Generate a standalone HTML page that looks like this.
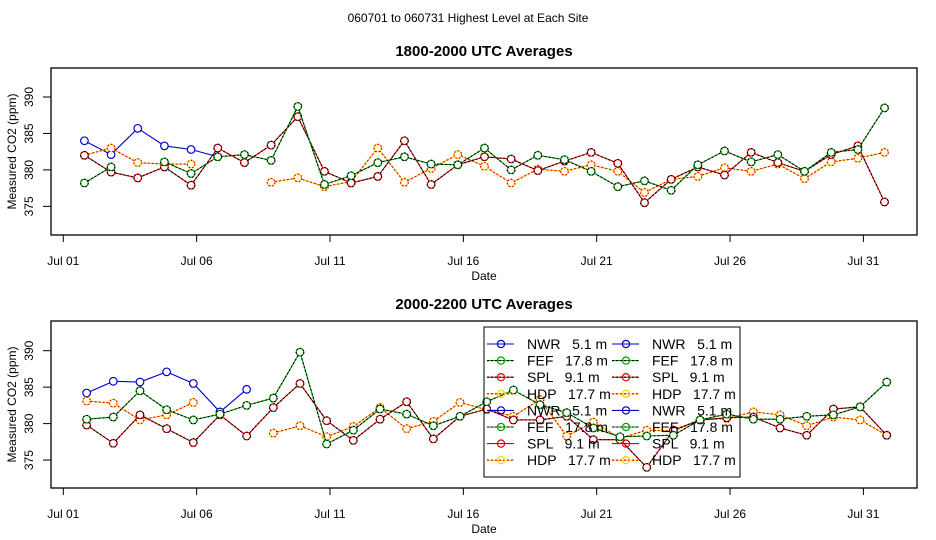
<!DOCTYPE html>
<html><head><meta charset="utf-8">
<style>
body{margin:0;background:#fff;}
svg{display:block;font-family:"Liberation Sans",sans-serif;}
</style></head>
<body>
<svg id="chart" width="936" height="540" viewBox="0 0 936 540" xmlns="http://www.w3.org/2000/svg">
<text x="468" y="22" font-size="12" text-anchor="middle">060701  to  060731 Highest Level at Each Site</text>
<g id="p1"></g>
<g id="p2"></g>
</svg>
<script>
// Data (days of July 2006, value in ppm)
const dayLabels = ["Jul 01","Jul 06","Jul 11","Jul 16","Jul 21","Jul 26","Jul 31"];
const labelDays = [1,6,11,16,21,26,31];
const yTicks = [375,380,385,390];
const days = [1,2,3,4,5,6,7,8,9,10,11,12,13,14,15,16,17,18,19,20,21,22,23,24,25,26,27,28,29,30,31];

const top_NWR = [384.0,382.1,385.7,383.3,382.8,381.8,null,null,null,null,null,null,null,null,null,null,null,null,null,null,null,null,null,null,null,null,null,null,null,null,null];
const top_FEF = [378.2,380.4,null,381.1,379.5,381.8,382.1,381.3,388.7,378.0,379.2,381.0,381.8,380.8,380.7,383.0,380.0,382.0,381.4,379.8,377.7,378.5,377.2,380.7,382.6,381.1,382.1,379.8,382.4,382.8,388.5];
const top_SPL = [382.0,379.7,378.9,380.4,377.9,383.0,381.0,383.4,387.3,379.8,378.2,379.1,384.0,378.0,380.7,381.8,381.5,379.9,381.2,382.4,380.9,375.5,378.7,380.4,379.3,382.4,381.0,379.8,382.1,383.3,375.6];
const top_HDP = [382.0,383.0,381.0,380.8,380.8,null,null,378.3,378.9,377.7,378.4,383.0,378.3,380.2,382.1,380.5,378.2,380.1,379.8,380.7,379.8,376.9,378.7,379.1,380.3,379.8,380.8,378.8,381.1,381.6,382.4];

const bot_NWR = [384.2,385.8,385.7,387.1,385.5,381.6,384.7,null,null,null,null,null,null,null,null,null,null,null,null,null,null,null,null,null,null,null,null,null,null,null,null];
const bot_FEF = [380.6,380.9,384.5,381.9,380.5,381.3,382.5,383.5,389.8,377.2,379.1,382.0,381.3,379.7,381.0,383.0,384.6,382.6,381.5,379.4,378.2,378.3,378.4,380.5,381.3,380.6,380.6,381.0,381.2,382.3,385.7];
const bot_SPL = [379.8,377.3,381.2,379.3,377.4,381.2,378.3,382.2,385.5,380.4,377.7,380.6,383.0,377.9,381.0,382.0,380.5,380.5,381.0,377.8,377.8,374.0,379.1,380.5,380.8,380.9,379.4,378.4,382.0,382.3,378.4];
const bot_HDP = [383.1,382.8,380.5,381.2,382.9,null,null,378.7,379.7,378.2,379.6,382.2,379.3,380.3,382.9,381.9,381.0,383.3,378.3,380.2,378.0,379.1,379.0,380.5,380.7,381.6,381.2,379.7,380.9,380.5,378.4];

const NS="http://www.w3.org/2000/svg";
function mk(tag,attrs,parent){const e=document.createElementNS(NS,tag);for(const k in attrs)e.setAttribute(k,attrs[k]);parent.appendChild(e);return e;}

const colors={NWR:"#0000cc",FEF:"#00a000",SPL:"#e00000",HDP:"#ffd000"};

function drawPanel(g,cfg){
  const L=51,R=917,T=cfg.top,B=cfg.top+167;
  const xS=d=>63.3+26.67*(d-1);
  const yS=v=>cfg.y390+(390-v)*7.29;
  const box=mk('rect',{x:L,y:T,width:R-L,height:B-T,fill:'none',stroke:'#000','stroke-width':1.3},g);
  
  
  const t=mk('text',{x:484,y:T-12,'font-size':15,'font-weight':'bold','text-anchor':'middle'},g);
  t.textContent=cfg.title;
  
  
  yTicks.forEach(v=>{
    const y=yS(v);
    mk('line',{x1:L-8,x2:L,y1:y,y2:y,stroke:'#000'},g);
    const tl=mk('text',{x:0,y:0,'font-size':12,'text-anchor':'middle',transform:`translate(33,${y}) rotate(-90)`},g);
    tl.textContent=v;
    
    
  });
  const yt=mk('text',{x:0,y:0,'font-size':12,'text-anchor':'middle',transform:`translate(16,${(T+B)/2}) rotate(-90)`},g);
  yt.textContent='Measured CO2 (ppm)';
  
  
  labelDays.forEach((d,i)=>{
    const x=xS(d);
    mk('line',{x1:x,x2:x,y1:B,y2:B+7,stroke:'#000'},g);
    const tl=mk('text',{x:x,y:B+30,'font-size':12,'text-anchor':'middle'},g);
    tl.textContent=dayLabels[i];
    
    
  });
  const xt=mk('text',{x:484,y:B+45,'font-size':12,'text-anchor':'middle'},g);
  xt.textContent='Date';
  
  
  cfg.series.forEach(([name,vals])=>{
    const sg=mk('g',{},g);
    
    
    const c=colors[name];
    const pts=days.map((d,i)=>vals[i]==null?null:[xS(d+cfg.off),yS(vals[i])]);
    let segs=[],cur=[];
    pts.forEach(p=>{if(p)cur.push(p);else{if(cur.length)segs.push(cur);cur=[];}});
    if(cur.length)segs.push(cur);
    segs.forEach(s=>{
      const dstr=s.map(p=>p.join(',')).join(' ');
      mk('polyline',{points:dstr,fill:'none',stroke:c,'stroke-width':1.1},sg);
      if(name!=='NWR')mk('polyline',{points:dstr,fill:'none',stroke:name==='HDP'?'#e00000':'#000','stroke-width':1.1,'stroke-dasharray':'2,2'},sg);
    });
    pts.forEach(p=>{if(!p)return;
      mk('circle',{cx:p[0],cy:p[1],r:3.8,fill:'#fff',stroke:c,'stroke-width':1.2},sg);
      if(name!=='NWR')mk('circle',{cx:p[0],cy:p[1],r:3.8,fill:'none',stroke:name==='HDP'?'#e00000':'#000','stroke-width':1.2,'stroke-dasharray':'1.5,2'},sg);
    });
  });
}

drawPanel(document.getElementById('p1'),{top:68,y390:97,off:19/24,title:'1800-2000 UTC Averages',
  series:[['NWR',top_NWR],['HDP',top_HDP],['SPL',top_SPL],['FEF',top_FEF]]});
drawPanel(document.getElementById('p2'),{top:321,y390:350.7,off:21/24,title:'2000-2200 UTC Averages',
  series:[['NWR',bot_NWR],['HDP',bot_HDP],['SPL',bot_SPL],['FEF',bot_FEF]]});

// legend
const legNames=["NWR","FEF","SPL","HDP","NWR","FEF","SPL","HDP"];
const legText=["NWR   5.1 m","FEF   17.8 m","SPL   9.1 m","HDP   17.7 m","NWR   5.1 m","FEF   17.8 m","SPL   9.1 m","HDP   17.7 m"];
const svg=document.getElementById('chart');
const lg=mk('g',{},svg);


mk('rect',{x:484,y:327,width:256,height:150,fill:'none',stroke:'#000','stroke-width':1},lg);
legNames.forEach((n,i)=>{
  const y=344+i*16.6;
  [487,612].forEach(x0=>{
    const e=mk('g',{},lg);
    
    
    const c=colors[n];
    mk('line',{x1:x0,x2:x0+27,y1:y,y2:y,stroke:c,'stroke-width':1.1},e);
    if(n!=='NWR' && !(i>=6 && n==='SPL'))mk('line',{x1:x0,x2:x0+27,y1:y,y2:y,stroke:n==='HDP'?'#e00000':'#000','stroke-width':1.1,'stroke-dasharray':'2,2'},e);
    mk('circle',{cx:x0+14,cy:y,r:3.6,fill:'none',stroke:c,'stroke-width':1.2},e);
    const t=mk('text',{x:x0+40,y:y+5,'font-size':14},e);
    t.setAttribute('style','white-space:pre');
    t.textContent=legText[i];
  });
});
</script>
</body></html>
